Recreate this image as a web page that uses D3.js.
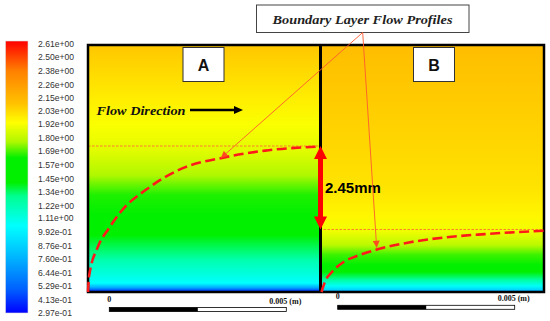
<!DOCTYPE html>
<html>
<head>
<meta charset="utf-8">
<script src="https://cdn.jsdelivr.net/npm/d3@7"></script>
<style>
  body { margin: 0; background: #fff; }
  svg { display: block; }
</style>
</head>
<body>
<svg id="chart" width="550" height="321"></svg>
<script>
// colour bar tick labels (velocity, m/s)
const colorLabels = ["2.61e+00", "2.50e+00", "2.38e+00", "2.26e+00", "2.15e+00", "2.03e+00",
    "1.92e+00", "1.80e+00", "1.69e+00", "1.57e+00", "1.45e+00", "1.34e+00", "1.22e+00",
    "1.11e+00", "9.92e-01", "8.76e-01", "7.60e-01", "6.44e-01", "5.29e-01", "4.13e-01", "2.97e-01"];

// velocity profile across the channel height (mm above wall)
const heightsA = [0, 0.03, 0.12, 0.26, 0.5, 0.94, 1.32, 1.67, 2.26, 2.85, 3.43, 4.17, 4.9, 5.64, 6.37, 7.25];
const velocityA = [0.297, 0.413, 0.713, 1.037, 1.107, 1.222, 1.338, 1.477, 1.523, 1.639, 1.754, 1.858, 1.905, 1.962, 2.009, 2.067];
const heightsB = [0, 0.06, 0.18, 0.35, 0.59, 0.79, 1.09, 1.38, 1.82, 2.26, 2.99, 4.17, 5.64, 7.25];
const velocityB = [0.528, 0.875, 1.06, 1.245, 1.477, 1.546, 1.662, 1.777, 1.893, 1.939, 1.985, 2.02, 2.055, 2.101];

// boundary layer edge (x along plate in mm, thickness in mm)
const blA_x = [0, 0.03, 0.3, 0.6, 1.0, 1.7, 2.7, 4.0, 5.2, 6.78];
const blA_d = [0, 0.45, 1.35, 1.85, 2.4, 3.0, 3.6, 3.95, 4.15, 4.27];
const blB_x = [0, 0.1, 0.3, 0.65, 1.1, 1.6, 2.6, 3.6, 4.8, 6.53];
const blB_d = [0, 0.3, 0.58, 0.88, 1.08, 1.24, 1.46, 1.6, 1.7, 1.8];

const deltaA = 4.285;
const deltaB = 1.835;
const thicknessLabel = "2.45mm";
const scaleBarLabels = ["0", "0.005 (m)"];
const scaleBarMax = 0.005;

// colormap stops as fraction of colour bar range
const cmapStops = [0, 0.087, 0.22, 0.32, 0.43, 0.48, 0.57, 0.63, 0.70, 0.77, 0.89, 1];
const cmapColors = ["#0000ff", "#0060ff", "#00c0ff", "#00ffff", "#00ff90", "#00f000",
    "#00f000", "#b0f800", "#ffff00", "#ffc200", "#ff8000", "#ff0000"];

const svg = d3.select("#chart");
const defs = svg.append("defs");

const colorValues = colorLabels.map(Number);
const vMin = d3.min(colorValues), vMax = d3.max(colorValues);
const colorScale = d3.scaleLinear()
    .domain(cmapStops.map((t) => vMin + t * (vMax - vMin)))
    .range(cmapColors)
    .clamp(true);

// ---- colour bar ----
const cbScale = d3.scaleLinear().domain([vMin, vMax]).range([313, 44]);

const cbGrad = defs.append("linearGradient")
    .attr("id", "cbGrad")
    .attr("x1", 0).attr("y1", 1).attr("x2", 0).attr("y2", 0);
cbGrad.selectAll("stop")
    .data(cmapStops)
    .enter()
    .append("stop")
    .attr("offset", (d) => d)
    .attr("stop-color", (d, i) => cmapColors[i]);

svg.append("rect")
    .attr("x", 5.5)
    .attr("y", cbScale(vMax) - 3)
    .attr("width", 22.5)
    .attr("height", cbScale(vMin) - cbScale(vMax) + 3)
    .attr("fill", "url(#cbGrad)")
    .attr("stroke", "#ddd")
    .attr("stroke-width", 0.6);

svg.append("g")
    .selectAll("text")
    .data(colorLabels)
    .enter()
    .append("text")
    .text((d) => d)
    .attr("x", 38)
    .attr("y", (d) => cbScale(+d))
    .attr("dy", "0.35em")
    .attr("font-family", "Liberation Sans, Arial, sans-serif")
    .attr("font-size", 8.6)
    .attr("fill", "#333");

// ---- panels ----
const yScale = d3.scaleLinear().domain([0, 7.25]).range([292, 45]);
const xA = d3.scaleLinear().domain([0, 6.81]).range([88, 320]);
const xB = d3.scaleLinear().domain([0, 6.53]).range([321.5, 544]);

function panelGradient(id, heights, velocity) {
    const g = defs.append("linearGradient")
        .attr("id", id)
        .attr("gradientUnits", "userSpaceOnUse")
        .attr("x1", 0).attr("x2", 0)
        .attr("y1", yScale(0)).attr("y2", yScale(7.25));
    g.selectAll("stop")
        .data(heights)
        .enter()
        .append("stop")
        .attr("offset", (d) => d / 7.25)
        .attr("stop-color", (d, i) => colorScale(velocity[i]));
}
panelGradient("gradA", heightsA, velocityA);
panelGradient("gradB", heightsB, velocityB);

svg.append("rect")
    .attr("x", xA(0)).attr("y", yScale(7.25))
    .attr("width", xA(6.81) - xA(0)).attr("height", yScale(0) - yScale(7.25))
    .attr("fill", "url(#gradA)");
svg.append("rect")
    .attr("x", xB(0)).attr("y", yScale(7.25))
    .attr("width", xB(6.53) - xB(0)).attr("height", yScale(0) - yScale(7.25))
    .attr("fill", "url(#gradB)");

// dotted boundary layer edge lines
svg.append("line")
    .attr("x1", xA(0)).attr("x2", xA(6.81))
    .attr("y1", yScale(deltaA)).attr("y2", yScale(deltaA))
    .attr("stroke", "#ff7030").attr("stroke-width", 0.9)
    .attr("stroke-dasharray", "2.5,1.5");
svg.append("line")
    .attr("x1", xB(0) - 2).attr("x2", xB(6.53))
    .attr("y1", yScale(deltaB)).attr("y2", yScale(deltaB))
    .attr("stroke", "#ff7030").attr("stroke-width", 0.9)
    .attr("stroke-dasharray", "2.5,1.5");

// frame
svg.append("rect")
    .attr("x", xA(0)).attr("y", yScale(7.25))
    .attr("width", xB(6.53) - xA(0)).attr("height", yScale(0) - yScale(7.25))
    .attr("fill", "none").attr("stroke", "#000").attr("stroke-width", 2.5);
svg.append("line")
    .attr("x1", 320.5).attr("x2", 320.5)
    .attr("y1", yScale(7.25)).attr("y2", yScale(0))
    .attr("stroke", "#000").attr("stroke-width", 3);

// boundary layer profiles
const blLine = (xs) => d3.line()
    .x((d) => xs(d[0]))
    .y((d) => yScale(d[1]))
    .curve(d3.curveMonotoneX);
svg.append("path")
    .attr("d", blLine(xA)(blA_x.map((x, i) => [x, blA_d[i]])))
    .attr("fill", "none").attr("stroke", "#ff1a1a").attr("stroke-width", 2.6)
    .attr("stroke-dasharray", "10,4.5");
svg.append("path")
    .attr("d", blLine(xB)(blB_x.map((x, i) => [x, blB_d[i]])))
    .attr("fill", "none").attr("stroke", "#ff1a1a").attr("stroke-width", 2.6)
    .attr("stroke-dasharray", "10,4.5");

// 2.45mm double arrow
const ax = 320.5, yTop = yScale(deltaA), yBot = yScale(deltaB);
svg.append("path")
    .attr("d", `M${ax},${yTop} L${ax + 6.5},${yTop + 13} L${ax + 2.5},${yTop + 13} L${ax + 2.5},${yBot - 13}
        L${ax + 6.5},${yBot - 13} L${ax},${yBot} L${ax - 6.5},${yBot - 13} L${ax - 2.5},${yBot - 13}
        L${ax - 2.5},${yTop + 13} L${ax - 6.5},${yTop + 13} Z`)
    .attr("fill", "#ff0000");
svg.append("text")
    .text(thicknessLabel)
    .attr("x", 325)
    .attr("y", (yTop + yBot) / 2 + 5.5)
    .attr("font-family", "Liberation Sans, Arial, sans-serif")
    .attr("font-weight", "bold")
    .attr("font-size", 15)
    .attr("fill", "#000");

// A / B boxes
const boxes = [{ label: "A", x: 183 }, { label: "B", x: 413.5 }];
svg.selectAll(".lbl")
    .data(boxes)
    .enter()
    .append("rect")
    .attr("x", (d) => d.x).attr("y", 47.5)
    .attr("width", 41).attr("height", 34)
    .attr("fill", "#fff").attr("stroke", "#333").attr("stroke-width", 1);
svg.selectAll(".lbltxt")
    .data(boxes)
    .enter()
    .append("text")
    .text((d) => d.label)
    .attr("x", (d) => d.x + 20.5).attr("y", 70.5)
    .attr("text-anchor", "middle")
    .attr("font-family", "Liberation Sans, Arial, sans-serif")
    .attr("font-weight", "bold").attr("font-size", 16)
    .attr("fill", "#111");

// flow direction
svg.append("text")
    .text("Flow Direction")
    .attr("x", 96.5).attr("y", 114.5)
    .attr("font-family", "Liberation Serif, serif")
    .attr("font-style", "italic").attr("font-weight", "bold")
    .attr("font-size", 12.5)
    .attr("textLength", 89).attr("lengthAdjust", "spacingAndGlyphs")
    .attr("fill", "#111");
svg.append("line")
    .attr("x1", 190).attr("x2", 236).attr("y1", 110).attr("y2", 110)
    .attr("stroke", "#000").attr("stroke-width", 2.4);
svg.append("path")
    .attr("d", "M243,110 L234,106 L234,114 Z")
    .attr("fill", "#000");

// title box + pointers
svg.append("rect")
    .attr("x", 256.5).attr("y", 5)
    .attr("width", 212.5).attr("height", 27.5)
    .attr("fill", "#fff").attr("stroke", "#444").attr("stroke-width", 1);
svg.append("text")
    .text("Boundary Layer Flow Profiles")
    .attr("x", 272.5).attr("y", 23.5)
    .attr("font-family", "Liberation Serif, serif")
    .attr("font-style", "italic").attr("font-weight", "bold")
    .attr("font-size", 13.5)
    .attr("textLength", 180).attr("lengthAdjust", "spacingAndGlyphs")
    .attr("fill", "#222");

defs.append("marker")
    .attr("id", "ptr")
    .attr("viewBox", "0 0 10 10")
    .attr("refX", 10).attr("refY", 5)
    .attr("markerWidth", 8).attr("markerHeight", 7)
    .attr("markerUnits", "userSpaceOnUse")
    .attr("orient", "auto")
    .append("path")
    .attr("d", "M0,0 L10,5 L0,10 Z")
    .attr("fill", "#ff4a20");

const ptrFrom = [362.7, 32.5];
const ptrTargets = [[xA(3.9), yScale(3.93)], [xB(1.62), yScale(1.3)]];
svg.selectAll(".ptr")
    .data(ptrTargets)
    .enter()
    .append("line")
    .attr("x1", ptrFrom[0]).attr("y1", ptrFrom[1])
    .attr("x2", (d) => d[0]).attr("y2", (d) => d[1])
    .attr("stroke", "#ff5a30").attr("stroke-width", 0.9)
    .attr("marker-end", "url(#ptr)");

// scale bars
const bars = [{ x0: 109.3, y: 307.5, ty: 305 }, { x0: 337.7, y: 305.3, ty: 302 }];
bars.forEach((b) => {
    const sx = d3.scaleLinear().domain([0, scaleBarMax]).range([b.x0, b.x0 + 177]);
    svg.append("rect")
        .attr("x", sx(0)).attr("y", b.y)
        .attr("width", sx(scaleBarMax) - sx(0)).attr("height", 4)
        .attr("fill", "#fff").attr("stroke", "#000").attr("stroke-width", 0.8);
    svg.append("rect")
        .attr("x", sx(0)).attr("y", b.y)
        .attr("width", sx(scaleBarMax / 2) - sx(0)).attr("height", 4)
        .attr("fill", "#000");
    svg.append("text")
        .text(scaleBarLabels[0])
        .attr("x", sx(0) - 2).attr("y", b.ty - 3)
        .attr("font-family", "Liberation Serif, serif")
        .attr("font-weight", "bold").attr("font-size", 8)
        .attr("fill", "#111");
    svg.append("text")
        .text(scaleBarLabels[1])
        .attr("x", sx(scaleBarMax) - 17).attr("y", b.ty - 1)
        .attr("font-family", "Liberation Serif, serif")
        .attr("font-weight", "bold").attr("font-size", 8)
        .attr("fill", "#111");
});
</script>
</body>
</html>
